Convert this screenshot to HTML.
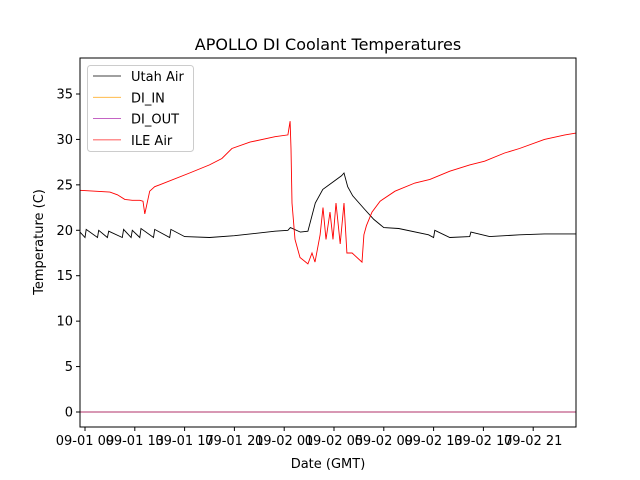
<!DOCTYPE html>
<html><head><meta charset="utf-8"><style>
body{margin:0;background:#fff;}
svg{display:block;font-family:"DejaVu Sans","Liberation Sans",sans-serif;}
</style></head><body>
<svg id="c" width="640" height="480">
<rect x="0" y="0" width="640" height="480" fill="#fff"/>
<g id="plot"></g>
</svg>
<script>
const tickHours=[9,13,17,21,25,29,33,37,41,45];
const tickLabels=["09-01 09","09-01 13","09-01 17","09-01 21","09-02 01","09-02 05","09-02 09","09-02 13","09-02 17","09-02 21"];
const yTicks=[0,5,10,15,20,25,30,35];
const ileHours=[8.6,11.0,11.6,12.2,12.8,13.4,13.66,13.8,14.2,14.6,15.0,17.4,19.0,20.0,20.8,22.25,24.26,25.3,25.47,25.55,25.63,25.87,26.27,26.9,27.23,27.47,27.88,28.12,28.36,28.68,28.92,29.16,29.5,29.8,30.04,30.45,31.25,31.4,31.6,32.05,32.7,33.9,35.5,36.7,38.3,39.9,41.1,42.7,43.9,45.9,47.55,48.44];
const ileVals=[24.4,24.2,23.9,23.4,23.3,23.3,23.2,21.8,24.3,24.8,25.0,26.3,27.2,27.9,29.0,29.7,30.3,30.5,32.0,29.0,23.0,19.0,17.0,16.3,17.5,16.5,19.5,22.5,19.0,22.0,19.0,23.0,18.5,23.0,17.5,17.5,16.5,19.5,20.5,22.0,23.2,24.3,25.2,25.6,26.5,27.2,27.6,28.5,29.0,30.0,30.5,30.7];
const utahHours=[8.6,9.0,9.1,10.0,10.1,10.8,10.9,12.0,12.1,12.7,12.8,13.4,13.5,14.5,14.6,15.8,15.9,17.0,19.0,21.0,24.26,25.3,25.5,26.3,26.9,27.5,28.1,28.9,29.6,29.8,30.1,30.5,31.4,32.2,33.0,34.2,36.6,37.0,37.1,38.3,39.9,40.0,41.5,43.9,45.9,48.44];
const utahVals=[19.8,19.2,20.1,19.2,20.0,19.2,19.9,19.2,20.1,19.2,20.0,19.2,20.2,19.2,20.1,19.2,20.1,19.3,19.2,19.4,19.9,20.0,20.3,19.8,19.9,23.0,24.5,25.3,26.0,26.3,24.8,23.8,22.4,21.2,20.3,20.2,19.5,19.2,20.0,19.2,19.3,19.8,19.3,19.5,19.6,19.6];
const L=80,R=576,T=58,B=427;
const xs=h=>85+(h-9)*12.45;
const ys=v=>412-v*9.086;
const NS="http://www.w3.org/2000/svg";
const g=document.getElementById('plot');
function mk(t,a,txt){const e=document.createElementNS(NS,t);for(const k in a)e.setAttribute(k,a[k]);if(txt!==undefined)e.textContent=txt;g.appendChild(e);return e;}
function line(hs,vs){return hs.map((h,i)=>xs(h).toFixed(1)+','+ys(vs[i]).toFixed(1)).join(' ');}
let e;
e=mk('polyline',{points:line([8.6,48.44],[0,0]),fill:'none',stroke:'#b0306a','stroke-width':1});


e=mk('polyline',{points:line(utahHours,utahVals),fill:'none',stroke:'#000','stroke-width':0.9});


e=mk('polyline',{points:line(ileHours,ileVals),fill:'none',stroke:'#ff0000','stroke-width':0.9});


e=mk('rect',{x:L,y:T,width:R-L,height:B-T,fill:'none',stroke:'#000','stroke-width':1});


tickHours.forEach((h,i)=>{const x=xs(h);
 e=mk('line',{x1:x,x2:x,y1:B,y2:B+4,stroke:'#000'});
 
 
 e=mk('text',{x:x,y:B+18,'text-anchor':'middle','font-size':13},tickLabels[i]);
 
 
});
yTicks.forEach(v=>{const y=ys(v);
 e=mk('line',{x1:L-4,x2:L,y1:y,y2:y,stroke:'#000'});
 
 
 e=mk('text',{x:L-7,y:y+4.5,'text-anchor':'end','font-size':13},String(v));
 
 
});
e=mk('text',{x:328,y:468,'text-anchor':'middle','font-size':13},'Date (GMT)');


e=mk('text',{x:0,y:0,'text-anchor':'middle','font-size':13,transform:'translate(43,242) rotate(-90)'},'Temperature (C)');


e=mk('text',{x:328,y:50,'text-anchor':'middle','font-size':16},'APOLLO DI Coolant Temperatures');


e=mk('rect',{x:87.5,y:65.5,width:106,height:86,rx:3,fill:'#fff','fill-opacity':0.8,stroke:'#ccc'});


const legNames=["Utah Air","DI_IN","DI_OUT","ILE Air"];
const legColors=["#000","#ffb030","#b030b0","#ff2020"];
legNames.forEach((n,i)=>{const y=76+i*21.3;
 e=mk('line',{x1:93,x2:121,y1:y,y2:y,stroke:legColors[i],'stroke-width':0.8});
 
 
 e=mk('text',{x:131,y:y+5,'font-size':13},n);
 
 
});
</script>
</body></html>
